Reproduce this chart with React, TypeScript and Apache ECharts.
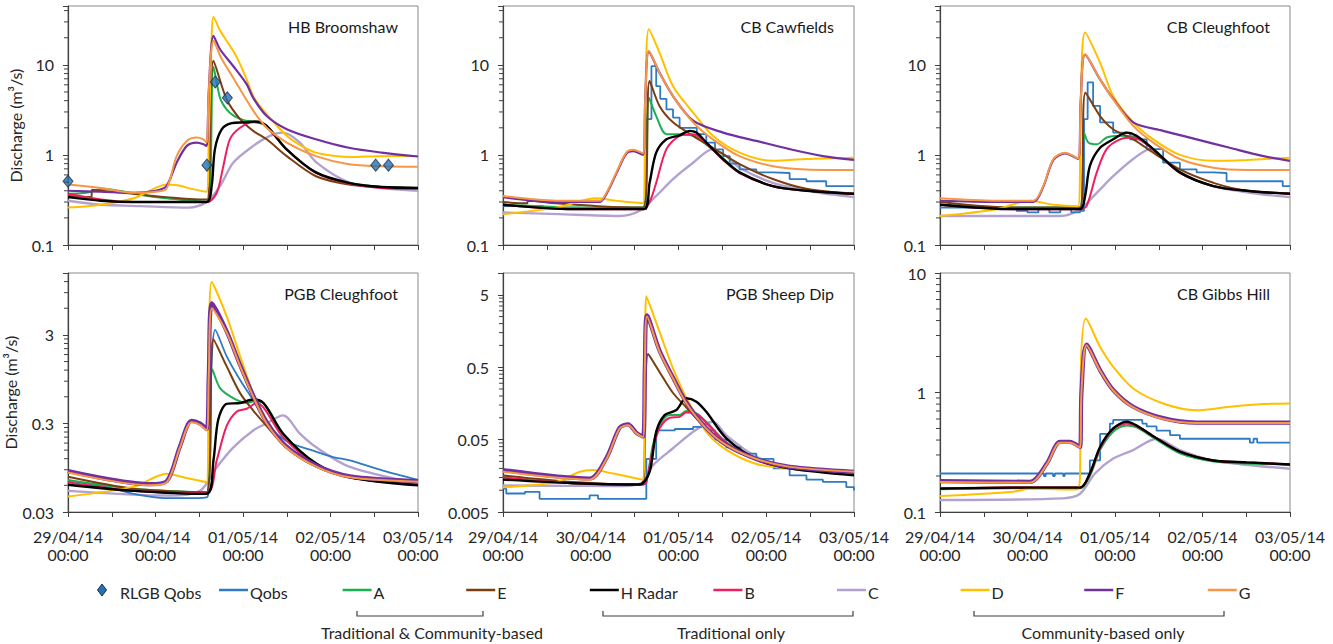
import React, { useEffect, useRef } from "react";
import * as echarts from "echarts";

type Pt = [number, number];

// ---------- labels ----------
const dayTickLabels = ["29/04/14", "30/04/14", "01/05/14", "02/05/14", "03/05/14"];
const timeTickLabel = "00:00";
const panelTitles = ["HB Broomshaw", "CB Cawfields", "CB Cleughfoot", "PGB Cleughfoot", "PGB Sheep Dip", "CB Gibbs Hill"];
const axisMins = [0.1, 0.1, 0.1, 0.03, 0.005, 0.1];
const axisMaxs = [45, 45, 45, 15, 10, 10];
const yAxisTitle = "Discharge (m³/s)";
const legendNames = ["Qobs", "A", "E", "H Radar", "B", "C", "D", "F", "G"];
const rlgbName = "RLGB Qobs";
const groupLabels = ["Traditional & Community-based", "Traditional only", "Community-based only"];

// ---------- Panel 1: HB Broomshaw ----------
const p1R: Pt[] = [[0, 0.51], [38.1, 0.77], [40.4, 6.46], [43.7, 4.3], [84.4, 0.77], [87.9, 0.77]];
const p1D: Pt[] = [[0, 0.26], [9, 0.28], [18, 0.33], [24, 0.43], [27, 0.47], [30, 0.46], [34, 0.42], [38, 0.39], [38.6, 1.5], [39.4, 20], [39.9, 34], [41.7, 24], [43.5, 18.5], [45.3, 14.3], [47.2, 10.2], [49, 6.9], [50.8, 4.5], [52.6, 3.5], [54.5, 2.83], [60, 1.63], [64, 1.26], [68, 1.06], [72.7, 0.98], [78, 0.95], [82, 0.96], [90, 0.97], [96, 0.97]];
const p1F: Pt[] = [[0, 0.4], [9, 0.39], [18, 0.38], [24, 0.4], [27, 0.45], [29.8, 0.82], [32.6, 1.26], [35.3, 1.37], [37, 1.32], [38, 1.26], [38.6, 5], [39.9, 21], [41.7, 14.9], [45.3, 9.7], [49, 6.1], [50.8, 4.3], [54.5, 2.7], [60, 1.93], [68, 1.49], [77, 1.2], [86, 1.06], [96, 0.96]];
const p1G: Pt[] = [[0, 0.47], [9, 0.43], [18, 0.38], [24, 0.39], [27, 0.42], [29.8, 0.97], [32.6, 1.43], [35.3, 1.56], [37, 1.5], [38, 1.37], [38.6, 5], [39.9, 18.5], [42, 12], [45.3, 7.2], [50.8, 3.1], [54.5, 2.0], [60, 1.37], [68, 0.97], [77, 0.79], [86, 0.75], [96, 0.74]];
const p1E: Pt[] = [[0, 0.35], [6.4, 0.34], [6.6, 0.41], [9, 0.4], [18, 0.37], [27, 0.34], [36, 0.32], [38.2, 0.32], [39.9, 11.1], [43.5, 4.15], [47.2, 2.5], [50.8, 1.85], [54.5, 1.49], [60, 0.97], [68, 0.58], [77, 0.47], [86, 0.44], [96, 0.43]];
const p1A: Pt[] = [[0, 0.37], [5, 0.38], [9.8, 0.42], [14, 0.4], [20, 0.36], [27, 0.33], [34, 0.31], [38.2, 0.3], [39.9, 9.5], [41.7, 4.3], [43.5, 3.2], [45.3, 2.75], [48, 2.45], [51.7, 2.3], [54.5, 2.1], [59.9, 1.16], [68, 0.64], [77, 0.49], [86, 0.44], [96, 0.43]];
const p1H: Pt[] = [[0, 0.34], [9, 0.31], [18, 0.3], [30, 0.3], [38.1, 0.3], [39.4, 0.45], [40.3, 1.16], [42.2, 1.93], [44.9, 2.25], [48.5, 2.3], [51.3, 2.35], [54.5, 2.1], [59.9, 1.16], [68, 0.64], [77, 0.49], [86, 0.44], [96, 0.43]];
const p1B: Pt[] = [[0, 0.37], [9, 0.32], [18, 0.3], [38.2, 0.3], [40.8, 0.38], [42.6, 0.75], [44.4, 1.49], [47.2, 2.0], [50.8, 2.3], [53.6, 2.2], [59.9, 1.16], [68, 0.63], [77, 0.48], [86, 0.43], [96, 0.42]];
const p1C: Pt[] = [[0, 0.31], [9, 0.28], [20, 0.27], [33, 0.26], [38, 0.3], [41.7, 0.45], [45.3, 0.82], [50.8, 1.26], [55.4, 1.63], [59, 1.77], [63.6, 1.37], [68.2, 0.82], [77.3, 0.49], [86, 0.43], [96, 0.4]];

// ---------- Panel 2: CB Cawfields ----------
const p2D: Pt[] = [[0, 0.22], [14.6, 0.26], [25.5, 0.33], [31, 0.31], [38.3, 0.29], [38.9, 3], [39.9, 24.9], [42.8, 13.7], [46.5, 5.8], [52, 2.95], [57.4, 1.63], [64.7, 1.06], [73.8, 0.86], [83, 0.9], [96, 0.93]];
const p2G: Pt[] = [[0, 0.35], [14.6, 0.31], [26.4, 0.31], [28.3, 0.38], [31, 0.64], [33.7, 1.06], [35.6, 1.14], [38.3, 1.04], [38.9, 4], [39.9, 14.3], [42.8, 8.2], [46.5, 4.5], [52, 2.3], [57.4, 1.49], [64.7, 0.97], [73.8, 0.75], [83, 0.69], [96, 0.68]];
const p2F: Pt[] = [[0, 0.34], [14.6, 0.3], [26.4, 0.3], [28.3, 0.37], [31, 0.62], [33.7, 1.03], [35.6, 1.1], [38.3, 1.0], [38.9, 4], [39.9, 14], [42.8, 8.2], [46.5, 4.5], [52, 2.4], [60.2, 1.77], [69.3, 1.43], [78.4, 1.16], [87.5, 0.97], [96, 0.88]];
const p2Q: Pt[] = [[0, 0.27], [10, 0.27], [11, 0.26], [20, 0.26], [21, 0.25], [38.5, 0.25], [39.2, 2.5], [40.6, 9.7], [41.9, 5.8], [43, 4.2], [44.7, 3.2], [46.5, 2.6], [48.3, 2.0], [52, 2.0], [53, 1.7], [55.6, 1.37], [58, 1.15], [60.2, 0.97], [62, 0.8], [64.7, 0.69], [69.3, 0.64], [73.8, 0.63], [78.4, 0.54], [83, 0.51], [88.4, 0.45], [96, 0.45]];
const p2E: Pt[] = [[0, 0.3], [6.6, 0.29], [6.8, 0.31], [14.6, 0.29], [26, 0.27], [38.3, 0.26], [40.1, 6.6], [42.8, 3.5], [46.5, 2.3], [52, 1.63], [57.4, 1.2], [64.7, 0.79], [73.8, 0.54], [83, 0.42], [96, 0.37]];
const p2A: Pt[] = [[0, 0.28], [10, 0.27], [20, 0.26], [38.3, 0.26], [39.9, 4.3], [41.9, 2.7], [44.7, 1.7], [48.3, 1.7], [52, 1.63], [55.6, 1.3], [60.2, 0.92], [64.7, 0.64], [73.8, 0.45], [83, 0.4], [96, 0.37]];
const p2H: Pt[] = [[0, 0.28], [19.1, 0.25], [38.5, 0.25], [40.1, 0.49], [41.9, 1.06], [44.7, 1.49], [48.3, 1.65], [51, 1.85], [52.9, 1.77], [55.6, 1.37], [60.2, 0.9], [64.7, 0.64], [73.8, 0.45], [83, 0.4], [96, 0.37]];
const p2B: Pt[] = [[0, 0.28], [19.1, 0.25], [38.5, 0.25], [40.1, 0.3], [41.9, 0.49], [44.7, 1.16], [48.3, 1.63], [52, 1.7], [55.6, 1.35], [60.2, 0.88], [64.7, 0.63], [73.8, 0.45], [83, 0.4], [96, 0.37]];
const p2C: Pt[] = [[0, 0.23], [15, 0.22], [31.9, 0.21], [37.4, 0.24], [41.9, 0.35], [46.5, 0.54], [52, 0.82], [57.4, 1.16], [61.1, 0.97], [64.7, 0.72], [73.8, 0.49], [85, 0.39], [96, 0.34]];

// ---------- Panel 3: CB Cleughfoot ----------
const p3D: Pt[] = [[0, 0.21], [15.5, 0.25], [24.7, 0.31], [31.1, 0.28], [37.9, 0.27], [38.6, 3], [39.8, 22.9], [43.9, 10.6], [47.5, 4.5], [53, 2.3], [58.5, 1.49], [65.8, 1.0], [75, 0.86], [84.1, 0.88], [96, 0.93]];
const p3G: Pt[] = [[0, 0.33], [15.5, 0.31], [25.6, 0.31], [28.3, 0.45], [31.1, 0.9], [34.3, 1.06], [37.9, 0.91], [38.6, 4], [39.8, 13.1], [43.9, 6.9], [47.5, 4.15], [53, 2.1], [58.5, 1.37], [65.8, 0.9], [75, 0.72], [84.1, 0.68], [96, 0.68]];
const p3F: Pt[] = [[0, 0.31], [15.5, 0.3], [25.6, 0.3], [28.3, 0.44], [31.1, 0.88], [34.3, 1.04], [37.9, 0.9], [38.6, 4], [39.8, 13], [43.9, 6.9], [47.5, 4.2], [53, 2.3], [61.2, 1.85], [70.4, 1.49], [79.5, 1.2], [88.7, 0.97], [96, 0.86]];
const p3Q: Pt[] = [[0, 0.26], [10, 0.26], [15, 0.25], [21, 0.24], [24, 0.23], [27, 0.25], [30, 0.23], [33, 0.25], [36, 0.23], [38.4, 0.24], [39.5, 2.5], [40.5, 6.4], [42, 3.5], [43.9, 2.3], [47.5, 1.77], [52.1, 1.49], [56.7, 1.16], [61.2, 0.82], [65.8, 0.69], [70.4, 0.64], [75, 0.63], [78.6, 0.51], [93.2, 0.51], [94, 0.45], [96, 0.45]];
const p3E: Pt[] = [[0, 0.3], [20.1, 0.26], [38.4, 0.26], [39.9, 4.9], [43.9, 2.7], [47.5, 1.93], [53, 1.49], [58.5, 1.06], [65.8, 0.69], [75, 0.49], [84.1, 0.4], [96, 0.37]];
const p3A: Pt[] = [[0, 0.28], [10, 0.27], [20, 0.26], [38.4, 0.26], [39.5, 1.77], [40.7, 1.37], [43, 1.31], [45.7, 1.56], [49.4, 1.63], [53, 1.6], [58.5, 1.16], [65.8, 0.64], [75, 0.45], [84.1, 0.4], [96, 0.37]];
const p3H: Pt[] = [[0, 0.28], [20.1, 0.25], [38.4, 0.25], [39.8, 0.35], [41.1, 0.75], [43.9, 1.2], [47.5, 1.49], [51.2, 1.77], [53.9, 1.63], [58.5, 1.16], [65.8, 0.64], [75, 0.45], [84.1, 0.4], [96, 0.37]];
const p3B: Pt[] = [[0, 0.28], [20.1, 0.25], [38.4, 0.25], [40.2, 0.27], [43, 0.64], [45.7, 1.16], [49.4, 1.49], [53, 1.56], [58.5, 1.14], [65.8, 0.63], [75, 0.45], [84.1, 0.4], [96, 0.37]];
const p3C: Pt[] = [[0, 0.21], [15, 0.21], [32.9, 0.21], [38.4, 0.25], [43, 0.38], [47.5, 0.58], [53, 0.9], [57.6, 1.16], [61.2, 0.9], [65.8, 0.64], [75, 0.45], [85, 0.38], [96, 0.34]];

// ---------- Panel 4: PGB Cleughfoot ----------
const p4D: Pt[] = [[0, 0.045], [18, 0.058], [27.1, 0.081], [31.7, 0.074], [38, 0.065], [38.6, 1], [39.4, 11.9], [43.5, 4.9], [47.2, 1.73], [50.8, 0.66], [54.5, 0.33], [59.9, 0.16], [68.2, 0.097], [77.3, 0.074], [96, 0.065]];
const p4F: Pt[] = [[0, 0.087], [22.5, 0.062], [27.1, 0.067], [30.7, 0.165], [33.9, 0.32], [36.2, 0.3], [38, 0.26], [38.6, 1], [39.5, 6.8], [43.5, 3.3], [47.2, 1.37], [50.8, 0.62], [54.5, 0.31], [59.9, 0.165], [68.2, 0.1], [77.3, 0.076], [96, 0.067]];
const p4G: Pt[] = [[0, 0.084], [22.5, 0.06], [27.1, 0.065], [30.7, 0.16], [33.9, 0.31], [36.2, 0.29], [38, 0.25], [38.6, 1], [39.5, 6.0], [43.5, 3.2], [47.2, 1.33], [50.8, 0.6], [54.5, 0.3], [59.9, 0.16], [68.2, 0.097], [77.3, 0.074], [96, 0.066]];
const p4Q: Pt[] = [[0, 0.068], [10, 0.058], [18, 0.048], [22, 0.045], [27.1, 0.043], [32, 0.043], [38, 0.044], [38.5, 0.05], [39, 0.5], [40.4, 3.42], [43.5, 1.73], [47.2, 0.93], [50.8, 0.55], [54.5, 0.3], [59.9, 0.19], [68.2, 0.143], [72.7, 0.125], [77.3, 0.115], [82, 0.1], [86.4, 0.088], [96, 0.069]];
const p4E: Pt[] = [[0, 0.075], [18, 0.055], [38, 0.05], [39.9, 2.66], [43.5, 1.33], [47.2, 0.66], [50.8, 0.42], [54.5, 0.28], [59.9, 0.16], [68.2, 0.097], [77.3, 0.074], [96, 0.063]];
const p4A: Pt[] = [[0, 0.069], [18, 0.055], [38, 0.05], [39.6, 1.22], [41.7, 0.75], [45.3, 0.58], [49, 0.51], [50.8, 0.53], [53.6, 0.51], [59, 0.23], [68.2, 0.105], [77.3, 0.074], [96, 0.061]];
const p4H: Pt[] = [[0, 0.061], [18, 0.052], [38, 0.048], [39.9, 0.115], [41.2, 0.33], [43.5, 0.5], [47.2, 0.51], [50.8, 0.56], [53.6, 0.51], [59, 0.23], [68.2, 0.105], [77.3, 0.074], [96, 0.06]];
const p4B: Pt[] = [[0, 0.065], [18, 0.052], [38, 0.049], [40.8, 0.115], [43.5, 0.28], [46.3, 0.41], [49, 0.44], [51.7, 0.51], [59, 0.21], [68.2, 0.1], [77.3, 0.073], [96, 0.062]];
const p4C: Pt[] = [[0, 0.052], [27.1, 0.046], [36.2, 0.052], [40.8, 0.096], [45.3, 0.16], [50.8, 0.25], [54.5, 0.3], [59, 0.37], [63.6, 0.23], [68.2, 0.16], [77.3, 0.097], [96, 0.063]];

// ---------- Panel 5: PGB Sheep Dip ----------
const p5D: Pt[] = [[0, 0.011], [14.6, 0.013], [21, 0.018], [24.6, 0.019], [30.1, 0.017], [38.3, 0.014], [38.8, 0.3], [39.2, 4.76], [42.8, 1.55], [46.5, 0.48], [50.1, 0.19], [55.6, 0.064], [61.1, 0.036], [69.3, 0.023], [78.4, 0.02], [96, 0.018]];
const p5F: Pt[] = [[0, 0.019], [23.7, 0.0145], [28.3, 0.028], [31.9, 0.073], [34.2, 0.081], [36.5, 0.062], [38.3, 0.055], [38.8, 0.5], [39.4, 2.6], [42.8, 0.85], [46.5, 0.36], [50.1, 0.165], [55.6, 0.072], [61.1, 0.042], [69.3, 0.027], [78.4, 0.021], [96, 0.018]];
const p5G: Pt[] = [[0, 0.018], [23.7, 0.014], [28.3, 0.027], [31.9, 0.071], [34.2, 0.079], [36.5, 0.061], [38.3, 0.054], [38.8, 0.5], [39.4, 2.5], [42.8, 0.82], [46.5, 0.35], [50.1, 0.16], [55.6, 0.071], [61.1, 0.042], [69.3, 0.027], [78.4, 0.021], [96, 0.018]];
const p5Q: Pt[] = [[0, 0.0105], [0.9, 0.009], [5, 0.009], [6, 0.0095], [10, 0.0076], [20, 0.0076], [23.7, 0.0085], [26, 0.0076], [38.3, 0.0076], [39.2, 0.027], [41.9, 0.067], [46.5, 0.067], [47, 0.07], [52, 0.075], [55.6, 0.067], [58, 0.05], [61.1, 0.039], [65, 0.032], [69.3, 0.027], [74, 0.02], [78.4, 0.016], [83, 0.014], [87.5, 0.013], [93.9, 0.011], [96, 0.0099]];
const p5E: Pt[] = [[0, 0.016], [19.1, 0.013], [37.4, 0.012], [38.5, 0.014], [39.7, 0.76], [42.8, 0.43], [46.5, 0.22], [50.1, 0.14], [55.6, 0.071], [61.1, 0.042], [69.3, 0.027], [78.4, 0.021], [96, 0.017]];
const p5A: Pt[] = [[0, 0.015], [19.1, 0.0125], [38.3, 0.012], [39.2, 0.013], [41, 0.042], [42.8, 0.079], [45.6, 0.109], [48.3, 0.109], [50.1, 0.124], [52.9, 0.115], [55.6, 0.088], [61.1, 0.046], [69.3, 0.027], [78.4, 0.02], [96, 0.017]];
const p5H: Pt[] = [[0, 0.014], [19.1, 0.0125], [37.4, 0.012], [40.1, 0.018], [41.9, 0.064], [44.2, 0.109], [47.4, 0.128], [50.1, 0.186], [52.9, 0.167], [55.6, 0.121], [61.1, 0.052], [69.3, 0.027], [78.4, 0.02], [96, 0.016]];
const p5B: Pt[] = [[0, 0.015], [19.1, 0.0125], [38.3, 0.012], [39.2, 0.013], [41, 0.037], [42.8, 0.071], [45.6, 0.1], [48.3, 0.103], [50.1, 0.118], [52.9, 0.113], [55.6, 0.085], [61.1, 0.045], [69.3, 0.026], [78.4, 0.02], [96, 0.017]];
const p5C: Pt[] = [[0, 0.0116], [32.8, 0.0114], [38.3, 0.013], [41, 0.022], [46.5, 0.038], [52, 0.064], [55.6, 0.083], [57.4, 0.088], [61.1, 0.057], [69.3, 0.029], [78.4, 0.021], [96, 0.017]];

// ---------- Panel 6: CB Gibbs Hill ----------
const p6D: Pt[] = [[0, 0.136], [20.1, 0.148], [24.7, 0.157], [37.5, 0.154], [38.4, 0.2], [38.6, 1.5], [40, 4.16], [43.9, 2.41], [47.5, 1.64], [53, 1.08], [61.2, 0.81], [70.4, 0.71], [79.5, 0.76], [88.7, 0.8], [96, 0.81]];
const p6F: Pt[] = [[0, 0.181], [24.7, 0.179], [29.3, 0.255], [32.9, 0.386], [35.6, 0.386], [38.4, 0.35], [38.8, 1], [40.2, 2.52], [43.9, 1.54], [47.5, 1.05], [53, 0.76], [61.2, 0.61], [70.4, 0.56], [96, 0.56]];
const p6G: Pt[] = [[0, 0.178], [24.7, 0.176], [29.3, 0.25], [32.9, 0.38], [35.6, 0.38], [38.4, 0.345], [38.8, 1], [40.2, 2.48], [43.9, 1.52], [47.5, 1.04], [53, 0.75], [61.2, 0.6], [70.4, 0.555], [96, 0.555]];
const p6Q: Pt[] = [[0, 0.21], [28.3, 0.21], [28.5, 0.2], [29, 0.21], [31, 0.2], [31.5, 0.21], [33.8, 0.2], [34.2, 0.21], [38.4, 0.21], [41.1, 0.27], [43.9, 0.45], [46.6, 0.55], [47.5, 0.59], [54.8, 0.59], [55.5, 0.55], [56.7, 0.52], [59.4, 0.48], [63.1, 0.44], [65.8, 0.41], [84.1, 0.41], [85, 0.38], [86, 0.41], [87, 0.38], [96, 0.38]];
const p6E: Pt[] = [[0, 0.158], [20, 0.16], [38.4, 0.16], [41.1, 0.21], [43.9, 0.345], [47.5, 0.5], [51.2, 0.56], [53.9, 0.53], [58.5, 0.43], [65.8, 0.32], [75, 0.27], [84.1, 0.26], [96, 0.25]];
const p6A: Pt[] = [[0, 0.155], [20, 0.158], [38.4, 0.158], [41.1, 0.2], [43.9, 0.33], [47.5, 0.47], [51.2, 0.53], [53.9, 0.51], [58.5, 0.42], [65.8, 0.31], [75, 0.265], [84.1, 0.255], [96, 0.25]];
const p6H: Pt[] = [[0, 0.157], [20, 0.16], [38.4, 0.16], [41.1, 0.21], [43.9, 0.35], [47.5, 0.5], [51.2, 0.57], [53.9, 0.53], [58.5, 0.43], [65.8, 0.32], [75, 0.27], [84.1, 0.26], [96, 0.25]];
const p6B: Pt[] = [[0, 0.157], [20, 0.16], [38.4, 0.16], [41.1, 0.205], [43.9, 0.34], [47.5, 0.49], [51.2, 0.55], [53.9, 0.52], [58.5, 0.43], [65.8, 0.32], [75, 0.27], [84.1, 0.26], [96, 0.25]];
const p6C: Pt[] = [[0, 0.126], [33.8, 0.13], [38.4, 0.142], [42.5, 0.21], [47.5, 0.28], [53, 0.33], [59.4, 0.41], [65.8, 0.33], [75, 0.27], [96, 0.23]];

// ---------- assembly ----------
const panelLines: Record<string, Pt[] | null>[] = [
  { Qobs: null, A: p1A, E: p1E, "H Radar": p1H, B: p1B, C: p1C, D: p1D, F: p1F, G: p1G },
  { Qobs: p2Q, A: p2A, E: p2E, "H Radar": p2H, B: p2B, C: p2C, D: p2D, F: p2F, G: p2G },
  { Qobs: p3Q, A: p3A, E: p3E, "H Radar": p3H, B: p3B, C: p3C, D: p3D, F: p3F, G: p3G },
  { Qobs: p4Q, A: p4A, E: p4E, "H Radar": p4H, B: p4B, C: p4C, D: p4D, F: p4F, G: p4G },
  { Qobs: p5Q, A: p5A, E: p5E, "H Radar": p5H, B: p5B, C: p5C, D: p5D, F: p5F, G: p5G },
  { Qobs: p6Q, A: p6A, E: p6E, "H Radar": p6H, B: p6B, C: p6C, D: p6D, F: p6F, G: p6G },
];
const panelRlgb: (Pt[] | null)[] = [p1R, null, null, null, null, null];
const steppedQobs = [false, true, true, false, true, true];

const colors: Record<string, string> = {
  RLGB: "#2472B8",
  Qobs: "#2E7BC4",
  A: "#1DB050",
  E: "#7A3E12",
  "H Radar": "#000000",
  B: "#EE1F5F",
  C: "#B3A2CF",
  D: "#FFC000",
  F: "#7030A0",
  G: "#F79646",
};
const drawOrder = ["C", "Qobs", "A", "E", "B", "D", "H Radar", "F", "G"];

const grids = [
  { left: 68, top: 6, width: 350, height: 239 },
  { left: 503, top: 6, width: 351, height: 239 },
  { left: 940, top: 6, width: 350, height: 239 },
  { left: 68, top: 273, width: 350, height: 239 },
  { left: 503, top: 273, width: 351, height: 239 },
  { left: 940, top: 273, width: 350, height: 239 },
];

const FONT = "Lato, 'Noto Sans', sans-serif";
const FS = 16;
const TXT = "#262626";
const AX = "#404040";

function buildOption() {
  const grid: any[] = [];
  const xAxis: any[] = [];
  const yAxis: any[] = [];
  const series: any[] = [];
  const graphic: any[] = [];

  grids.forEach((g, i) => {
    const base = axisMins[i];
    const ymax = Math.log10(axisMaxs[i] / base);
    const bottomRow = i >= 3;
    grid.push({ ...g, show: true, borderColor: "#8a8a8a", borderWidth: 1, containLabel: false });
    xAxis.push({
      gridIndex: i,
      type: "value",
      min: 0,
      max: 96,
      interval: 12,
      axisLine: { show: true, lineStyle: { color: AX, width: 1.2 } },
      axisTick: { show: true, length: 5, lineStyle: { color: AX } },
      splitLine: { show: false },
      axisLabel: {
        show: bottomRow,
        showMinLabel: true,
        showMaxLabel: true,
        hideOverlap: false,
        margin: 15,
        lineHeight: 18,
        fontFamily: FONT,
        fontSize: FS,
        color: TXT,
        formatter: (v: number) => {
          const r = Math.round(v);
          if (Math.abs(v - r) > 1e-6 || r % 24 !== 0) return "";
          return `${dayTickLabels[r / 24]}\n${timeTickLabel}`;
        },
      },
    });
    yAxis.push({
      gridIndex: i,
      type: "value",
      min: 0,
      max: ymax,
      interval: 1,
      axisLine: { show: true, lineStyle: { color: AX, width: 1.2 } },
      axisTick: { show: true, length: 5, lineStyle: { color: AX } },
      splitLine: { show: false },
      axisLabel: {
        margin: 14,
        fontFamily: FONT,
        fontSize: FS,
        color: TXT,
        showMaxLabel: true,
        formatter: (v: number) => {
          const r = Math.round(v);
          if (Math.abs(v - r) > 1e-6) return "";
          return String(parseFloat((base * Math.pow(10, r)).toPrecision(4)));
        },
      },
      name: i === 0 || i === 3 ? yAxisTitle : "",
      nameLocation: "middle",
      nameGap: 45,
      nameTextStyle: { fontFamily: FONT, fontSize: FS, color: TXT },
    });

    const toY = (d: Pt[]) => d.map(([h, v]) => [h, Math.log10(v / base)]);
    const lines = panelLines[i];
    drawOrder.forEach((key) => {
      const d = lines[key];
      if (!d) return;
      let width = 2;
      if (key === "H Radar") width = 2.4;
      if (key === "C") width = 2.4;
      if (key === "Qobs") width = 1.8;
      if (key === "F") width = bottomRow ? 4.2 : 2.2;
      const stepped = key === "Qobs" && steppedQobs[i];
      series.push({
        type: "line",
        name: key,
        xAxisIndex: i,
        yAxisIndex: i,
        data: toY(d),
        showSymbol: false,
        symbol: "none",
        step: stepped ? "end" : false,
        smooth: stepped ? false : 0.3,
        lineStyle: { color: colors[key], width },
        itemStyle: { color: colors[key] },
        emphasis: { disabled: true },
        silent: true,
      });
    });
    const r = panelRlgb[i];
    if (r) {
      series.push({
        type: "scatter",
        name: rlgbName,
        xAxisIndex: i,
        yAxisIndex: i,
        data: toY(r),
        symbol: "diamond",
        symbolSize: [10, 12],
        itemStyle: { color: colors.RLGB, borderColor: "#1B2F45", borderWidth: 1 },
        z: 5,
        silent: true,
      });
    }
    // minor log ticks (k * 10^n * base)
    const minor: number[][] = [];
    for (let n = 0; n < 6; n++) {
      for (let k = 2; k <= 9; k++) {
        const y = n + Math.log10(k);
        if (y < ymax - 1e-6) minor.push([0, y]);
      }
    }
    series.push({
      type: "custom",
      xAxisIndex: i,
      yAxisIndex: i,
      data: minor,
      clip: false,
      silent: true,
      z: 6,
      encode: { x: 0, y: 1 },
      renderItem: (_p: any, api: any) => {
        const pt = api.coord([0, api.value(1)]);
        return {
          type: "line",
          shape: { x1: pt[0] - 4, y1: pt[1], x2: pt[0], y2: pt[1] },
          style: { stroke: AX, lineWidth: 1 },
        };
      },
    });

    graphic.push({
      type: "text",
      x: g.left + g.width - 20,
      y: g.top + 20,
      style: {
        text: panelTitles[i],
        fontFamily: FONT,
        fontSize: FS,
        fill: "#1a1a1a",
        align: "right",
        verticalAlign: "middle",
        textAlign: "right",
        textVerticalAlign: "middle",
      },
    });
  });

  // ---- legend (drawn) ----
  const legY = 590;
  const textY = 592;
  graphic.push({
    type: "polygon",
    shape: { points: [[102, legY - 6], [106.5, legY], [102, legY + 6], [97.5, legY]] },
    style: { fill: colors.RLGB, stroke: "#1B2F45", lineWidth: 1 },
  });
  graphic.push({
    type: "text",
    x: 120,
    y: textY,
    style: { text: rlgbName, fontFamily: FONT, fontSize: FS, fill: TXT, align: "left", verticalAlign: "middle", textAlign: "left", textVerticalAlign: "middle" },
  });
  legendNames.forEach((nm, k) => {
    const x0 = 219 + k * 123.6;
    graphic.push({
      type: "line",
      shape: { x1: x0, y1: legY, x2: x0 + 29, y2: legY },
      style: { stroke: colors[nm], lineWidth: 2.5 },
    });
    graphic.push({
      type: "text",
      x: x0 + 31,
      y: textY,
      style: { text: nm, fontFamily: FONT, fontSize: FS, fill: TXT, align: "left", verticalAlign: "middle", textAlign: "left", textVerticalAlign: "middle" },
    });
  });
  const brackets = [
    [357, 483, 432],
    [603, 853, 731],
    [974, 1224, 1103],
  ];
  brackets.forEach(([a, b, c], k) => {
    graphic.push({
      type: "polyline",
      shape: { points: [[a, 611], [a, 616], [b, 616], [b, 611]] },
      style: { stroke: AX, lineWidth: 1.2, fill: "none" },
    });
    graphic.push({
      type: "text",
      x: c,
      y: 632,
      style: { text: groupLabels[k], fontFamily: FONT, fontSize: FS, fill: TXT, align: "center", verticalAlign: "middle", textAlign: "center", textVerticalAlign: "middle" },
    });
  });

  return { animation: false, grid, xAxis, yAxis, series, graphic };
}

export default function App() {
  const ref = useRef<HTMLDivElement>(null);
  useEffect(() => {
    if (!ref.current) return;
    const chart = echarts.init(ref.current, undefined, { renderer: "svg" });
    chart.setOption(buildOption() as any);
    return () => chart.dispose();
  }, []);
  return (
    <div
      ref={ref}
      style={{ position: "absolute", left: 0, top: 0, width: 1333, height: 644, background: "#ffffff" }}
    />
  );
}
